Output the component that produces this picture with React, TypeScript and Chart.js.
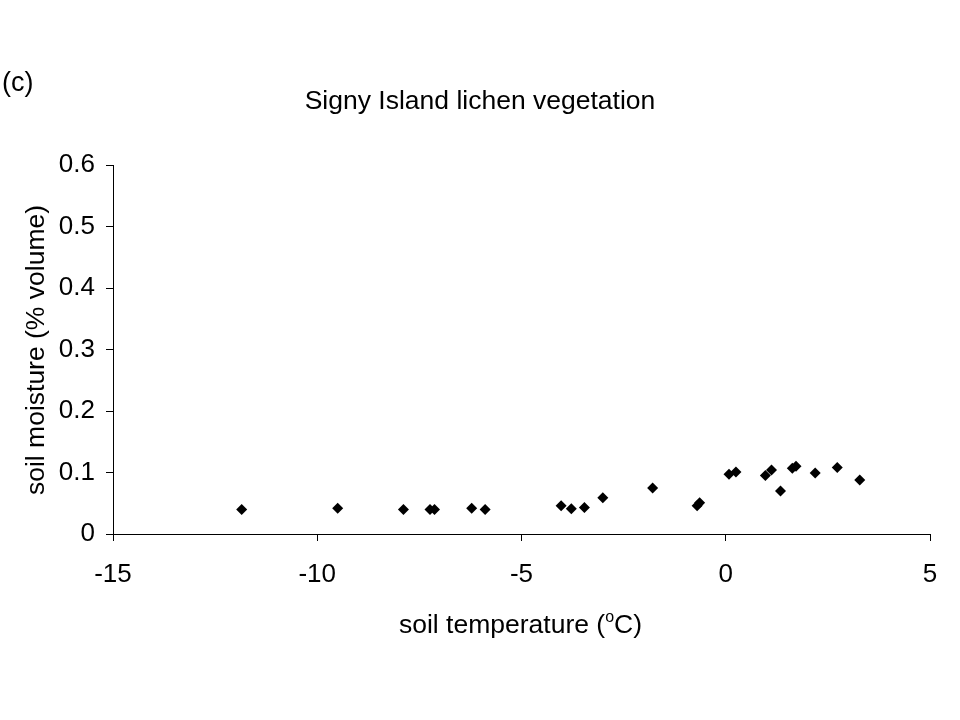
import React, { useEffect, useRef } from "react";
import { Chart, registerables } from "chart.js";

Chart.register(...registerables);

const soilTemperature: number[] = [
  -11.85, -9.5, -7.89, -7.24, -7.13, -6.22, -5.89, -4.03, -3.78, -3.46, -3.01, -1.79,
  -0.7, -0.64, 0.08, 0.25, 0.97, 1.12, 1.34, 1.63, 1.72, 2.19, 2.73, 3.28,
];
const soilMoisture: number[] = [
  0.04, 0.042, 0.04, 0.04, 0.04, 0.042, 0.04, 0.046, 0.041, 0.043, 0.059, 0.075,
  0.046, 0.051, 0.097, 0.101, 0.095, 0.104, 0.07, 0.107, 0.11, 0.099, 0.108, 0.088,
];

const chartTitle = "Signy Island lichen vegetation";
const panelLabel = "(c)";
const xTitleParts = ["soil temperature (", "o", "C)"];
const yTitle = "soil moisture (% volume)";

const FONT = "'Liberation Sans', Arial, sans-serif";

const textPlugin = {
  id: "customText",
  afterDraw(chart: any) {
    const ctx = chart.ctx as CanvasRenderingContext2D;
    ctx.save();
    ctx.fillStyle = "#000";
    ctx.textBaseline = "middle";
    // panel label
    ctx.font = `27px ${FONT}`;
    ctx.textAlign = "left";
    ctx.fillText(panelLabel, 2, 84);
    // title
    ctx.textAlign = "center";
    ctx.font = `26.5px ${FONT}`;
    ctx.fillText(chartTitle, 480, 102);
    // x title with superscript
    ctx.textAlign = "left";
    ctx.textBaseline = "alphabetic";
    const big = `26.5px ${FONT}`;
    const small = `16px ${FONT}`;
    ctx.font = big;
    const w1 = ctx.measureText(xTitleParts[0]).width;
    const w3 = ctx.measureText(xTitleParts[2]).width;
    ctx.font = small;
    const w2 = ctx.measureText(xTitleParts[1]).width;
    const total = w1 + w2 + w3;
    let x = 520.5 - total / 2;
    const base = 633;
    ctx.font = big;
    ctx.fillText(xTitleParts[0], x, base);
    x += w1;
    ctx.font = small;
    ctx.fillText(xTitleParts[1], x, base - 11);
    x += w2;
    ctx.font = big;
    ctx.fillText(xTitleParts[2], x, base);
    // y title
    ctx.translate(44, 350);
    ctx.rotate(-Math.PI / 2);
    ctx.textAlign = "center";
    ctx.font = big;
    ctx.fillText(yTitle, 0, 0);
    ctx.restore();
  },
};

export default function App() {
  const ref = useRef<HTMLCanvasElement | null>(null);
  useEffect(() => {
    if (!ref.current) return;
    const data = soilTemperature.map((t, i) => ({ x: t, y: soilMoisture[i] }));
    const chart = new Chart(ref.current, {
      type: "scatter",
      data: {
        datasets: [
          {
            data,
            pointStyle: "rectRot",
            pointRadius: 5.5,
            backgroundColor: "#000",
            borderColor: "#000",
            borderWidth: 0,
          },
        ],
      },
      options: {
        responsive: false,
        animation: false,
        devicePixelRatio: 1,
        layout: { padding: { top: 165, right: 30, left: 0, bottom: 0 } },
        plugins: {
          legend: { display: false },
          tooltip: { enabled: false },
          title: { display: false },
        },
        scales: {
          x: {
            type: "linear",
            min: -15,
            max: 5,
            afterFit: (s: any) => {
              s.height = 186;
            },
            ticks: {
              stepSize: 5,
              color: "#000",
              padding: 18,
              font: { family: FONT, size: 26 },
              maxRotation: 0,
            },
            grid: {
              drawOnChartArea: false,
              drawTicks: true,
              tickLength: 7,
              color: "#000",
            },
            border: { color: "#000", width: 1 },
          },
          y: {
            type: "linear",
            min: 0,
            max: 0.6,
            afterFit: (s: any) => {
              s.width = 113;
            },
            ticks: {
              stepSize: 0.1,
              color: "#000",
              padding: 11,
              font: { family: FONT, size: 26 },
              callback: (v: any) => String(Number(Number(v).toFixed(1))),
            },
            grid: {
              drawOnChartArea: false,
              drawTicks: true,
              tickLength: 7,
              color: "#000",
            },
            border: { color: "#000", width: 1 },
          },
        },
      },
      plugins: [textPlugin],
    });
    return () => chart.destroy();
  }, []);
  return (
    <div style={{ position: "absolute", left: 0, top: 0, width: 960, height: 720, background: "#fff" }}>
      <canvas ref={ref} width={960} height={720} style={{ display: "block" }} />
    </div>
  );
}
